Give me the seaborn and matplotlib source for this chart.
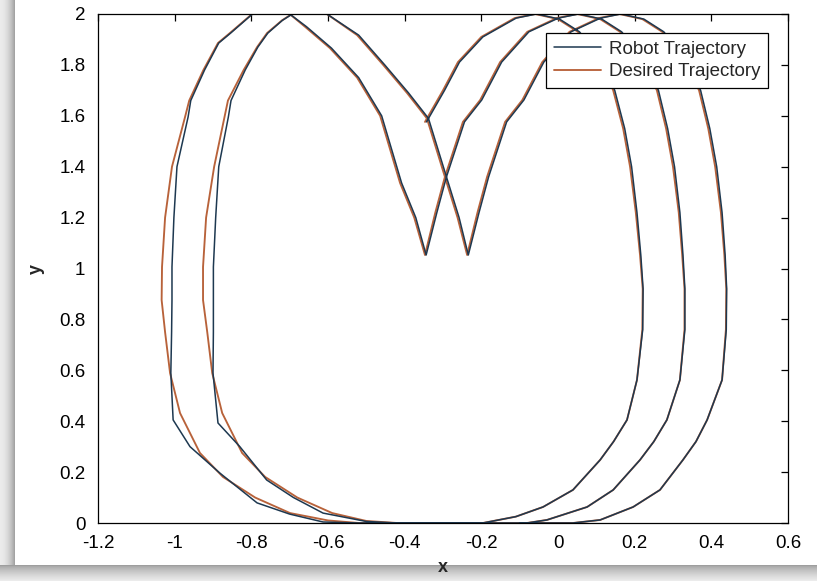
import matplotlib
matplotlib.use("Agg")
import matplotlib.pyplot as plt
import seaborn as sns
import pandas as pd
from matplotlib.patches import Rectangle

# ---------------- data ----------------
desired_x = [
    -0.347, -0.300, -0.261, -0.200, -0.113, -0.060,
    0.000, 0.052, 0.105, 0.144, 0.170, 0.188, 0.203, 0.214, 0.221, 0.220, 0.206, 0.180, 0.145, 0.110, 0.039, -0.039, -0.110, -0.196,
    -0.350, -0.520,
    -0.600, -0.699, -0.790, -0.874, -0.934, -0.986, -1.012, -1.025, -1.034, -1.033, -1.025, -1.007, -0.973, -0.962, -0.925, -0.887, -0.856, -0.798, -0.700,
    -0.660, -0.595, -0.524, -0.464, -0.412, -0.375, -0.347,
    -0.320, -0.295, -0.248, -0.203, -0.151, -0.080, -0.003, 0.050,
    0.110, 0.162, 0.215, 0.258, 0.282, 0.300, 0.315, 0.324, 0.330, 0.330, 0.318, 0.284, 0.250, 0.214, 0.144, 0.076, -0.029, -0.081,
    -0.250, -0.420,
    -0.500, -0.589, -0.680, -0.764, -0.824, -0.876, -0.902, -0.915, -0.926, -0.926, -0.918, -0.897, -0.870, -0.861, -0.820, -0.785, -0.759, -0.720, -0.694, -0.603,
    -0.524, -0.456, -0.394, -0.342, -0.295, -0.262, -0.237,
    -0.210, -0.185, -0.138, -0.093, -0.041, 0.030, 0.107, 0.160,
    0.220, 0.272, 0.325, 0.368, 0.392, 0.410, 0.425, 0.434, 0.439, 0.438, 0.428, 0.389, 0.360, 0.326, 0.266, 0.196, 0.110, 0.039,
    -0.100,
]
desired_y = [
    1.576, 1.700, 1.811, 1.910, 1.984, 2.000,
    1.980, 1.930, 1.830, 1.700, 1.550, 1.400, 1.220, 1.053, 0.920, 0.760, 0.562, 0.405, 0.320, 0.248, 0.130, 0.063, 0.025, 0.000,
    0.000, 0.000,
    0.010, 0.039, 0.100, 0.181, 0.275, 0.432, 0.589, 0.750, 0.876, 1.006, 1.200, 1.400, 1.595, 1.660, 1.780, 1.886, 1.925, 2.000, 2.000,
    1.950, 1.866, 1.750, 1.600, 1.336, 1.200, 1.053,
    1.220, 1.360, 1.576, 1.662, 1.811, 1.930, 1.984, 2.000,
    1.980, 1.930, 1.830, 1.700, 1.550, 1.400, 1.220, 1.053, 0.920, 0.760, 0.562, 0.405, 0.320, 0.248, 0.130, 0.063, 0.012, 0.000,
    0.000, 0.000,
    0.008, 0.039, 0.100, 0.181, 0.275, 0.432, 0.589, 0.750, 0.876, 1.006, 1.200, 1.400, 1.595, 1.660, 1.780, 1.870, 1.925, 1.975, 2.000, 2.000,
    1.917, 1.800, 1.690, 1.590, 1.360, 1.200, 1.053,
    1.220, 1.360, 1.576, 1.662, 1.811, 1.930, 1.984, 2.000,
    1.980, 1.930, 1.830, 1.700, 1.550, 1.400, 1.220, 1.053, 0.920, 0.760, 0.562, 0.405, 0.320, 0.248, 0.130, 0.063, 0.012, 0.000,
    0.000,
]

robot_x = [
    -0.343, -0.296, -0.257, -0.196, -0.109, -0.056,
    0.004, 0.056, 0.109, 0.148, 0.174, 0.192, 0.206, 0.216, 0.222, 0.221, 0.206, 0.180, 0.145, 0.110, 0.039, -0.039, -0.110, -0.196,
    -0.350, -0.520,
    -0.613, -0.700, -0.785, -0.882, -0.960, -1.004, -1.010, -1.008, -1.007, -1.007, -1.002, -0.994, -0.965, -0.958, -0.922, -0.885, -0.854, -0.797, -0.700,
    -0.656, -0.591, -0.520, -0.460, -0.408, -0.371, -0.344,
    -0.316, -0.291, -0.244, -0.199, -0.147, -0.076, 0.001, 0.054,
    0.114, 0.166, 0.219, 0.262, 0.286, 0.304, 0.318, 0.326, 0.331, 0.331, 0.318, 0.284, 0.250, 0.214, 0.144, 0.076, -0.029, -0.081,
    -0.250, -0.420,
    -0.500, -0.613, -0.690, -0.760, -0.830, -0.887, -0.900, -0.899, -0.899, -0.899, -0.893, -0.885, -0.860, -0.853, -0.816, -0.783, -0.757, -0.719, -0.693, -0.603,
    -0.520, -0.452, -0.390, -0.338, -0.291, -0.258, -0.234,
    -0.206, -0.181, -0.134, -0.089, -0.037, 0.034, 0.111, 0.164,
    0.224, 0.276, 0.329, 0.372, 0.396, 0.414, 0.428, 0.436, 0.440, 0.439, 0.428, 0.389, 0.360, 0.326, 0.266, 0.196, 0.110, 0.039,
    -0.100,
]
robot_y = [
    1.576, 1.700, 1.811, 1.910, 1.984, 2.000,
    1.980, 1.930, 1.830, 1.700, 1.550, 1.400, 1.220, 1.053, 0.920, 0.760, 0.562, 0.405, 0.320, 0.248, 0.130, 0.063, 0.025, 0.000,
    0.000, 0.000,
    0.004, 0.035, 0.079, 0.196, 0.300, 0.405, 0.589, 0.750, 0.876, 1.006, 1.200, 1.400, 1.595, 1.660, 1.780, 1.886, 1.925, 2.000, 2.000,
    1.950, 1.866, 1.750, 1.600, 1.336, 1.200, 1.053,
    1.220, 1.360, 1.576, 1.662, 1.811, 1.930, 1.984, 2.000,
    1.980, 1.930, 1.830, 1.700, 1.550, 1.400, 1.220, 1.053, 0.920, 0.760, 0.562, 0.405, 0.320, 0.248, 0.130, 0.063, 0.012, 0.000,
    0.000, 0.000,
    0.006, 0.039, 0.100, 0.169, 0.300, 0.393, 0.589, 0.750, 0.876, 1.006, 1.200, 1.400, 1.595, 1.660, 1.780, 1.870, 1.925, 1.975, 2.000, 2.000,
    1.917, 1.800, 1.690, 1.590, 1.360, 1.200, 1.053,
    1.220, 1.360, 1.576, 1.662, 1.811, 1.930, 1.984, 2.000,
    1.980, 1.930, 1.830, 1.700, 1.550, 1.400, 1.220, 1.053, 0.920, 0.760, 0.562, 0.405, 0.320, 0.248, 0.130, 0.063, 0.012, 0.000,
    0.000,
]

x_ticks = [-1.2, -1.0, -0.8, -0.6, -0.4, -0.2, 0.0, 0.2, 0.4, 0.6]
x_tick_labels = ["-1.2", "-1", "-0.8", "-0.6", "-0.4", "-0.2", "0", "0.2", "0.4", "0.6"]
y_ticks = [0.0, 0.2, 0.4, 0.6, 0.8, 1.0, 1.2, 1.4, 1.6, 1.8, 2.0]
y_tick_labels = ["0", "0.2", "0.4", "0.6", "0.8", "1", "1.2", "1.4", "1.6", "1.8", "2"]

series_names = ["Robot Trajectory", "Desired Trajectory"]
series_colors = ["#1d3850", "#b8623a"]

# ---------------- styling ----------------
sns.set_style("white")
plt.rcParams["font.family"] = ["Liberation Sans", "DejaVu Sans"]

W, H = 817, 581
fig = plt.figure(figsize=(W / 100, H / 100), dpi=100)

# background panel with drop shadow (left + bottom)
bg = fig.add_axes([0, 0, 1, 1], zorder=-5)
bg.set_xlim(0, W)
bg.set_ylim(H, 0)
bg.axis("off")
bg.add_patch(Rectangle((0, 0), W, H, color="#e4e4e4", lw=0))
for i in range(15):
    g = 0.92 - 0.28 * (i / 14) ** 2
    bg.add_patch(Rectangle((i, 0), 1, 566, color=(g, g, g), lw=0))
for j in range(16):
    g = 0.62 + 0.30 * (j / 15) ** 0.7
    bg.add_patch(Rectangle((0, 565 + j), W, 1, color=(g, g, g), lw=0))
bg.add_patch(Rectangle((15, 0), W - 15, 565, color="white", lw=0))

ax = fig.add_axes([98 / W, (H - 523) / H, 690 / W, 509 / H])
ax.set_facecolor("white")

df_des = pd.DataFrame({"x": desired_x, "y": desired_y})
df_rob = pd.DataFrame({"x": robot_x, "y": robot_y})

sns.lineplot(data=df_des, x="x", y="y", sort=False, estimator=None,
             color=series_colors[1], lw=1.35, ax=ax, label=series_names[1])
sns.lineplot(data=df_rob, x="x", y="y", sort=False, estimator=None,
             color=series_colors[0], lw=1.1, ax=ax, label=series_names[0])

ax.set_xlim(-1.2, 0.6)
ax.set_ylim(0, 2)
ax.set_xticks(x_ticks)
ax.set_xticklabels(x_tick_labels)
ax.set_yticks(y_ticks)
ax.set_yticklabels(y_tick_labels)
ax.tick_params(direction="in", length=5, width=0.9, top=True, right=True,
               labelsize=13.5, pad=9, colors="black")
for s in ax.spines.values():
    s.set_color("black")
    s.set_linewidth(0.9)
    s.set_visible(True)
ax.set_xlabel("x", fontsize=13, fontweight="bold", labelpad=5)
ax.set_ylabel("y", fontsize=13, fontweight="bold", labelpad=10)

handles, labels = ax.get_legend_handles_labels()
order = [labels.index(n) for n in series_names]
leg = ax.legend([handles[i] for i in order], [labels[i] for i in order],
                loc="upper right", bbox_to_anchor=((768 - 98) / 690, (523 - 33) / 509),
                borderaxespad=0, frameon=True, fancybox=False, framealpha=1,
                edgecolor="black", fontsize=13.5, handlelength=2.5,
                handletextpad=0.45, labelspacing=0.3, borderpad=0.4)
leg.get_frame().set_linewidth(0.9)

fig.savefig("out.png", dpi=100)
